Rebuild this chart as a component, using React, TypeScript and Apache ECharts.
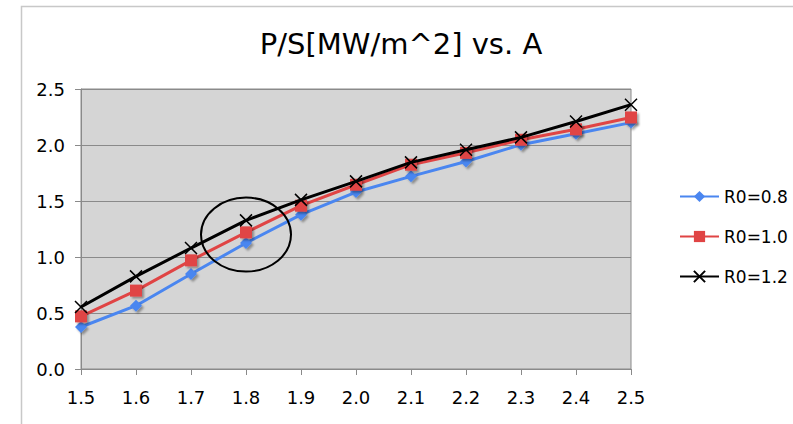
import React, { useEffect, useRef } from "react";
import * as echarts from "echarts";

const categories = ["1.5", "1.6", "1.7", "1.8", "1.9", "2.0", "2.1", "2.2", "2.3", "2.4", "2.5"];
const r08 = [0.375, 0.565, 0.848, 1.125, 1.378, 1.58, 1.72, 1.853, 2.003, 2.1, 2.2];
const r10 = [0.47, 0.7, 0.97, 1.22, 1.458, 1.645, 1.824, 1.93, 2.047, 2.14, 2.246];
const r12 = [0.553, 0.827, 1.08, 1.327, 1.51, 1.675, 1.845, 1.958, 2.068, 2.21, 2.36];
const seriesNames = ["R0=0.8", "R0=1.0", "R0=1.2"];
const titleText = "P/S[MW/m^2] vs. A";
const ellipseCenter = [2.92, 1.2];

export default function App() {
  const ref = useRef<HTMLDivElement>(null);
  useEffect(() => {
    document.body.style.margin = "0";
    const chart = echarts.init(ref.current!, null, { renderer: "svg" });
    const font = "DejaVu Sans";
    const shadow = {
      shadowColor: "rgba(0,0,0,0.35)",
      shadowOffsetX: 2,
      shadowOffsetY: 2,
      shadowBlur: 2,
    };
    chart.setOption({
      animation: false,
      backgroundColor: "#fff",
      title: {
        text: titleText,
        left: 396,
        textAlign: "center",
        top: 24,
        textStyle: { fontFamily: font, fontSize: 29, fontWeight: "normal", color: "#000" },
      },
      legend: {
        orient: "vertical",
        left: 674,
        top: 183,
        itemWidth: 39,
        itemHeight: 14,
        itemGap: 23,
        textStyle: { fontFamily: font, fontSize: 17, color: "#000" },
        data: seriesNames,
      },
      grid: {
        left: 81,
        right: 162,
        top: 89,
        bottom: 55,
        show: true,
        backgroundColor: "#d5d5d5",
        borderColor: "#8a8a8a",
        borderWidth: 1,
      },
      xAxis: {
        type: "category",
        data: categories,
        boundaryGap: false,
        axisLine: { lineStyle: { color: "#8a8a8a", width: 1 } },
        axisTick: { show: true, length: 6, lineStyle: { color: "#8a8a8a" } },
        axisLabel: { fontFamily: font, fontSize: 18, color: "#000", margin: 19 },
        splitLine: { show: false },
      },
      yAxis: {
        type: "value",
        min: 0,
        max: 2.5,
        interval: 0.5,
        axisLine: { show: true, lineStyle: { color: "#8a8a8a", width: 1 } },
        axisTick: { show: true, length: 6, lineStyle: { color: "#8a8a8a" } },
        axisLabel: {
          fontFamily: font,
          fontSize: 18,
          color: "#000",
          margin: 16,
          formatter: (v: number) => v.toFixed(1),
        },
        splitLine: { show: true, lineStyle: { color: "#8a8a8a", width: 1 } },
      },
      series: [
        {
          name: seriesNames[0],
          type: "line",
          data: r08,
          symbol: "diamond",
          symbolSize: 12,
          lineStyle: { color: "#4a86f0", width: 3 },
          itemStyle: { color: "#4a86f0", ...shadow },
          z: 2,
        },
        {
          name: seriesNames[1],
          type: "line",
          data: r10,
          symbol: "rect",
          symbolSize: 12,
          lineStyle: { color: "#e04444", width: 3 },
          itemStyle: { color: "#e04444", ...shadow },
          z: 3,
        },
        {
          name: seriesNames[2],
          type: "line",
          data: r12,
          symbol: "path://M0,0L10,10M10,0L0,10",
          symbolSize: 12,
          lineStyle: { color: "#000", width: 3 },
          itemStyle: { color: "none", borderColor: "#000", borderWidth: 1.5 },
          z: 4,
        },
      ],
    });
    const c = chart.convertToPixel({ gridIndex: 0 }, ellipseCenter) as number[];
    chart.setOption({
      graphic: [
        {
          type: "rect",
          shape: { x: 21.5, y: 6.5, width: 900, height: 500 },
          style: { fill: "none", stroke: "#c8c8c8", lineWidth: 1.5 },
          silent: true,
          z: -1,
        },
        {
          type: "ellipse",
          shape: { cx: c[0], cy: c[1], rx: 45, ry: 37 },
          style: { fill: "none", stroke: "#000", lineWidth: 2 },
          z: 100,
        },
      ],
    });
    return () => chart.dispose();
  }, []);
  return <div ref={ref} style={{ width: 793, height: 424 }} />;
}
